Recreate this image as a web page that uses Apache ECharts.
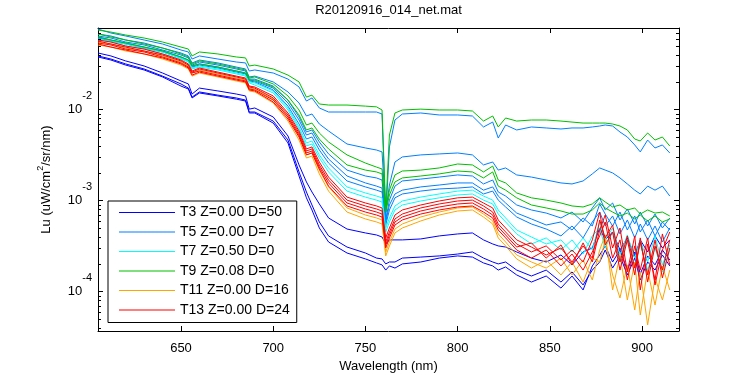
<!DOCTYPE html>
<html>
<head>
<meta charset="utf-8">
<script src="https://cdn.jsdelivr.net/npm/echarts@6/dist/echarts.min.js"></script>
<style>
html, body { margin: 0; padding: 0; background: #fff; }
#main { width: 750px; height: 375px; }
</style>
</head>
<body>
<div id="main"></div>
<script>
'use strict';

// wavelength grid (nm) shared by every spectrum
var wavelength = [605, 612, 620, 630, 640, 650, 654, 656, 660, 670, 680, 685, 687, 690, 700, 708, 714, 718, 721, 725,
    730, 740, 750, 756, 759, 761, 763, 766, 770, 780, 790, 800, 808, 814, 819, 822, 826, 832, 840, 848,
    856, 862, 868, 873, 877, 880, 884, 888, 892, 896, 899, 903, 907, 911, 915];

// T3 Z=0.00 D=50
var t3a = [4.18e-2, 3.88e-2, 3.42e-2, 3.01e-2, 2.52e-2, 2.06e-2, 1.91e-2, 1.48e-2, 1.72e-2, 1.60e-2, 1.48e-2, 1.41e-2, 1.01e-2, 1.04e-2, 8.28e-3, 5.12e-3, 2.46e-3, 1.60e-3, 1.24e-3, 9.16e-4, 6.43e-4, 4.86e-4, 4.40e-4, 4.18e-4, 3.97e-4, 3.33e-4, 3.69e-4, 3.69e-4, 3.69e-4, 3.78e-4, 4.08e-4, 4.29e-4, 4.40e-4, 3.69e-4, 3.33e-4, 3.17e-4, 3.08e-4, 2.72e-4, 2.33e-4, 2.11e-4, 2.52e-4, 1.96e-4, 2.72e-4, 3.01e-4, 4.99e-4, 3.69e-4, 4.51e-4, 2.86e-4, 3.88e-4, 2.46e-4, 3.69e-4, 2.72e-4, 4.08e-4, 3.01e-4, 3.69e-4];
var t3b = [3.88e-2, 3.59e-2, 3.17e-2, 2.79e-2, 2.33e-2, 1.91e-2, 1.72e-2, 1.37e-2, 1.56e-2, 1.44e-2, 1.34e-2, 1.27e-2, 9.39e-3, 9.39e-3, 7.47e-3, 4.62e-3, 2.06e-3, 1.24e-3, 8.93e-4, 5.81e-4, 4.08e-4, 3.08e-4, 2.65e-4, 2.33e-4, 2.28e-4, 2.01e-4, 2.11e-4, 2.11e-4, 2.33e-4, 2.39e-4, 2.46e-4, 2.58e-4, 2.72e-4, 2.33e-4, 2.11e-4, 2.01e-4, 2.11e-4, 1.72e-4, 1.48e-4, 1.72e-4, 1.27e-4, 1.64e-4, 1.18e-4, 1.72e-4, 2.11e-4, 2.86e-4, 1.81e-4, 2.46e-4, 1.52e-4, 2.33e-4, 1.34e-4, 2.11e-4, 1.72e-4, 2.52e-4, 1.91e-4];
var t3c = [3.78e-2, 3.50e-2, 3.08e-2, 2.72e-2, 2.28e-2, 1.81e-2, 1.68e-2, 1.34e-2, 1.52e-2, 1.41e-2, 1.30e-2, 1.24e-2, 9.16e-3, 9.16e-3, 7.10e-3, 4.29e-3, 1.86e-3, 1.07e-3, 7.87e-4, 4.99e-4, 3.50e-4, 2.65e-4, 2.28e-4, 2.06e-4, 1.96e-4, 1.72e-4, 1.91e-4, 1.81e-4, 2.01e-4, 2.11e-4, 2.33e-4, 2.46e-4, 2.39e-4, 2.06e-4, 1.91e-4, 1.72e-4, 1.86e-4, 1.52e-4, 1.27e-4, 1.48e-4, 1.09e-4, 1.48e-4, 1.04e-4, 1.91e-4, 2.52e-4, 3.17e-4, 2.11e-4, 2.86e-4, 1.72e-4, 2.72e-4, 1.56e-4, 2.46e-4, 1.96e-4, 2.86e-4, 2.22e-4];

// T5 Z=0.00 D=7
var t5a = [7.67e-2, 6.93e-2, 6.43e-2, 5.81e-2, 5.25e-2, 4.51e-2, 4.29e-2, 3.59e-2, 3.88e-2, 3.59e-2, 3.33e-2, 3.25e-2, 2.65e-2, 2.72e-2, 2.52e-2, 2.16e-2, 1.77e-2, 1.24e-2, 1.34e-2, 1.04e-2, 9.39e-3, 9.39e-3, 9.39e-3, 9.39e-3, 8.93e-3, 6.43e-4, 3.88e-3, 7.67e-3, 8.93e-3, 9.16e-3, 8.71e-3, 8.71e-3, 8.49e-3, 6.43e-3, 7.28e-3, 4.86e-3, 6.76e-3, 5.96e-3, 6.43e-3, 6.27e-3, 6.11e-3, 6.27e-3, 6.27e-3, 6.43e-3, 6.59e-3, 6.76e-3, 6.59e-3, 5.66e-3, 4.99e-3, 4.08e-3, 3.42e-3, 4.62e-3, 3.78e-3, 4.08e-3, 3.33e-3];
var t5b = [6.76e-2, 6.43e-2, 5.81e-2, 5.38e-2, 4.74e-2, 4.18e-2, 3.88e-2, 3.25e-2, 3.50e-2, 3.25e-2, 2.93e-2, 2.79e-2, 2.28e-2, 2.33e-2, 2.01e-2, 1.56e-2, 1.18e-2, 8.49e-3, 8.93e-3, 6.93e-3, 5.81e-3, 4.18e-3, 3.78e-3, 3.59e-3, 3.42e-3, 7.47e-4, 1.48e-3, 2.65e-3, 3.01e-3, 3.17e-3, 3.25e-3, 3.33e-3, 3.17e-3, 2.46e-3, 2.65e-3, 2.16e-3, 2.28e-3, 1.91e-3, 1.81e-3, 1.68e-3, 1.56e-3, 1.52e-3, 1.64e-3, 1.96e-3, 2.28e-3, 2.16e-3, 2.01e-3, 1.77e-3, 1.52e-3, 1.30e-3, 1.18e-3, 1.44e-3, 1.30e-3, 1.44e-3, 1.12e-3];
var t5c = [6.43e-2, 6.11e-2, 5.52e-2, 5.12e-2, 4.51e-2, 3.97e-2, 3.69e-2, 3.08e-2, 3.33e-2, 3.08e-2, 2.79e-2, 2.65e-2, 2.16e-2, 2.16e-2, 1.81e-2, 1.27e-2, 8.28e-3, 5.66e-3, 5.96e-3, 4.40e-3, 3.25e-3, 2.16e-3, 1.86e-3, 1.77e-3, 1.68e-3, 6.11e-4, 1.01e-3, 1.44e-3, 1.64e-3, 1.72e-3, 1.81e-3, 1.91e-3, 1.86e-3, 1.52e-3, 1.68e-3, 1.24e-3, 1.12e-3, 8.93e-4, 7.87e-4, 7.28e-4, 6.43e-4, 7.47e-4, 5.81e-4, 8.28e-4, 1.07e-3, 7.87e-4, 9.39e-4, 6.11e-4, 8.07e-4, 5.52e-4, 7.47e-4, 5.25e-4, 7.10e-4, 4.99e-4, 6.43e-4];
var t5d = [6.27e-2, 5.81e-2, 5.38e-2, 4.86e-2, 4.40e-2, 3.78e-2, 3.50e-2, 3.01e-2, 3.17e-2, 2.93e-2, 2.65e-2, 2.52e-2, 2.11e-2, 2.06e-2, 1.72e-2, 1.18e-2, 7.67e-3, 5.25e-3, 5.52e-3, 3.97e-3, 2.86e-3, 1.86e-3, 1.56e-3, 1.44e-3, 1.37e-3, 5.81e-4, 8.93e-4, 1.18e-3, 1.30e-3, 1.41e-3, 1.48e-3, 1.56e-3, 1.56e-3, 1.30e-3, 1.41e-3, 1.12e-3, 9.39e-4, 7.28e-4, 6.27e-4, 5.38e-4, 5.81e-4, 4.74e-4, 6.43e-4, 5.25e-4, 9.16e-4, 7.10e-4, 5.25e-4, 7.47e-4, 4.74e-4, 6.76e-4, 4.51e-4, 6.11e-4, 4.08e-4, 5.81e-4, 4.74e-4];
var t5e = [6.11e-2, 5.66e-2, 5.25e-2, 4.74e-2, 4.29e-2, 3.69e-2, 3.42e-2, 2.93e-2, 3.08e-2, 2.86e-2, 2.58e-2, 2.46e-2, 2.06e-2, 2.01e-2, 1.64e-2, 1.09e-2, 6.93e-3, 4.74e-3, 4.99e-3, 3.59e-3, 2.58e-3, 1.64e-3, 1.41e-3, 1.30e-3, 1.24e-3, 5.38e-4, 7.87e-4, 1.07e-3, 1.18e-3, 1.27e-3, 1.34e-3, 1.37e-3, 1.41e-3, 1.18e-3, 1.27e-3, 1.01e-3, 8.49e-4, 6.59e-4, 5.52e-4, 4.86e-4, 4.08e-4, 5.25e-4, 3.88e-4, 5.81e-4, 7.47e-4, 5.25e-4, 6.76e-4, 4.29e-4, 6.11e-4, 3.88e-4, 5.52e-4, 3.69e-4, 5.25e-4, 3.50e-4, 4.99e-4];

// T7 Z=0.50 D=0
var t7a = [5.96e-2, 5.66e-2, 5.25e-2, 4.74e-2, 4.29e-2, 3.69e-2, 3.42e-2, 2.86e-2, 3.01e-2, 2.79e-2, 2.52e-2, 2.39e-2, 2.01e-2, 1.96e-2, 1.60e-2, 1.04e-2, 6.43e-3, 4.29e-3, 4.51e-3, 3.17e-3, 2.28e-3, 1.41e-3, 1.21e-3, 1.12e-3, 1.07e-3, 4.99e-4, 6.43e-4, 8.71e-4, 9.88e-4, 1.09e-3, 1.18e-3, 1.27e-3, 1.30e-3, 1.12e-3, 1.01e-3, 7.87e-4, 6.43e-4, 4.74e-4, 3.97e-4, 3.33e-4, 3.69e-4, 2.72e-4, 3.88e-4, 2.86e-4, 5.81e-4, 3.69e-4, 4.99e-4, 2.52e-4, 4.18e-4, 2.33e-4, 3.69e-4, 2.11e-4, 4.08e-4, 1.96e-4, 3.25e-4];
var t7b = [5.81e-2, 5.52e-2, 4.99e-2, 4.62e-2, 4.08e-2, 3.59e-2, 3.33e-2, 2.79e-2, 2.93e-2, 2.72e-2, 2.46e-2, 2.33e-2, 1.96e-2, 1.86e-2, 1.52e-2, 9.88e-3, 6.11e-3, 3.97e-3, 4.18e-3, 2.93e-3, 2.06e-3, 1.27e-3, 1.09e-3, 1.01e-3, 9.63e-4, 4.51e-4, 5.81e-4, 7.87e-4, 8.93e-4, 9.88e-4, 1.07e-3, 1.15e-3, 1.18e-3, 1.01e-3, 9.16e-4, 7.10e-4, 5.81e-4, 4.29e-4, 3.33e-4, 3.88e-4, 2.86e-4, 3.69e-4, 2.58e-4, 4.08e-4, 4.99e-4, 3.01e-4, 4.51e-4, 2.11e-4, 3.69e-4, 1.91e-4, 3.33e-4, 1.72e-4, 3.01e-4, 1.64e-4, 2.86e-4];

// T9 Z=0.08 D=0
var t9a = [7.47e-2, 7.10e-2, 6.59e-2, 6.11e-2, 5.52e-2, 4.86e-2, 4.62e-2, 3.88e-2, 4.29e-2, 4.08e-2, 3.78e-2, 3.69e-2, 3.01e-2, 3.08e-2, 2.79e-2, 2.39e-2, 2.01e-2, 1.37e-2, 1.44e-2, 1.15e-2, 1.12e-2, 1.12e-2, 1.09e-2, 1.07e-2, 9.88e-3, 7.87e-4, 5.25e-3, 9.16e-3, 9.88e-3, 1.01e-2, 9.88e-3, 9.88e-3, 9.63e-3, 7.47e-3, 8.49e-3, 6.43e-3, 8.07e-3, 7.47e-3, 7.67e-3, 7.67e-3, 7.47e-3, 7.28e-3, 7.10e-3, 7.10e-3, 7.10e-3, 7.10e-3, 6.93e-3, 6.59e-3, 5.96e-3, 4.74e-3, 4.51e-3, 5.52e-3, 4.62e-3, 4.99e-3, 3.97e-3];
var t9b = [6.76e-2, 6.27e-2, 5.81e-2, 5.25e-2, 4.74e-2, 4.08e-2, 3.78e-2, 3.17e-2, 3.42e-2, 3.17e-2, 2.86e-2, 2.72e-2, 2.22e-2, 2.28e-2, 1.91e-2, 1.41e-2, 9.88e-3, 6.76e-3, 7.10e-3, 5.52e-3, 4.40e-3, 3.17e-3, 2.58e-3, 2.33e-3, 2.22e-3, 7.87e-4, 1.30e-3, 1.91e-3, 2.11e-3, 2.16e-3, 2.28e-3, 2.52e-3, 2.46e-3, 2.06e-3, 2.39e-3, 1.68e-3, 1.56e-3, 1.21e-3, 1.07e-3, 1.01e-3, 9.39e-4, 8.71e-4, 8.49e-4, 9.16e-4, 1.07e-3, 9.63e-4, 8.49e-4, 8.93e-4, 7.87e-4, 8.28e-4, 7.10e-4, 7.87e-4, 7.28e-4, 7.47e-4, 6.76e-4];
var t9c = [6.27e-2, 5.81e-2, 5.38e-2, 4.86e-2, 4.40e-2, 3.78e-2, 3.50e-2, 3.01e-2, 3.17e-2, 2.93e-2, 2.65e-2, 2.52e-2, 2.11e-2, 2.11e-2, 1.77e-2, 1.27e-2, 8.71e-3, 5.96e-3, 6.27e-3, 4.74e-3, 3.69e-3, 2.46e-3, 2.16e-3, 2.06e-3, 1.96e-3, 7.47e-4, 1.15e-3, 1.60e-3, 1.77e-3, 1.86e-3, 1.96e-3, 2.11e-3, 2.06e-3, 1.77e-3, 2.06e-3, 1.44e-3, 1.30e-3, 1.07e-3, 8.93e-4, 8.28e-4, 7.67e-4, 7.10e-4, 7.10e-4, 7.87e-4, 9.39e-4, 8.28e-4, 7.47e-4, 6.76e-4, 7.28e-4, 6.27e-4, 6.93e-4, 5.96e-4, 6.76e-4, 5.81e-4, 6.27e-4];

// T11 Z=0.00 D=16
var t11a = [5.52e-2, 5.25e-2, 4.74e-2, 4.40e-2, 3.88e-2, 3.33e-2, 3.01e-2, 2.52e-2, 2.72e-2, 2.46e-2, 2.22e-2, 2.11e-2, 1.72e-2, 1.68e-2, 1.30e-2, 8.28e-3, 5.12e-3, 3.17e-3, 3.33e-3, 2.16e-3, 1.41e-3, 8.28e-4, 6.93e-4, 6.43e-4, 6.11e-4, 2.72e-4, 3.50e-4, 4.86e-4, 5.52e-4, 6.59e-4, 7.47e-4, 8.28e-4, 8.49e-4, 7.10e-4, 5.96e-4, 4.29e-4, 3.50e-4, 2.52e-4, 2.11e-4, 1.81e-4, 2.33e-4, 1.52e-4, 2.22e-4, 1.34e-4, 2.86e-4, 4.18e-4, 1.04e-4, 2.52e-4, 8.07e-5, 2.11e-4, 5.52e-5, 1.72e-4, 7.10e-5, 1.91e-4, 1.04e-4];
var t11b = [5.12e-2, 4.86e-2, 4.40e-2, 4.08e-2, 3.59e-2, 3.08e-2, 2.79e-2, 2.33e-2, 2.52e-2, 2.28e-2, 2.06e-2, 1.96e-2, 1.60e-2, 1.56e-2, 1.18e-2, 7.47e-3, 4.62e-3, 2.93e-3, 3.08e-3, 1.96e-3, 1.27e-3, 7.47e-4, 6.27e-4, 5.81e-4, 5.52e-4, 2.46e-4, 3.17e-4, 4.40e-4, 4.99e-4, 5.96e-4, 6.93e-4, 7.67e-4, 7.87e-4, 6.59e-4, 5.52e-4, 3.88e-4, 3.17e-4, 2.28e-4, 1.81e-4, 2.22e-4, 1.52e-4, 2.11e-4, 1.27e-4, 2.33e-4, 2.11e-4, 3.69e-4, 1.52e-4, 8.49e-5, 1.96e-4, 6.27e-5, 1.64e-4, 4.29e-5, 1.41e-4, 8.07e-5, 1.72e-4];

// T13 Z=0.00 D=24
var t13a = [5.81e-2, 5.52e-2, 4.99e-2, 4.62e-2, 4.08e-2, 3.50e-2, 3.17e-2, 2.65e-2, 2.86e-2, 2.58e-2, 2.33e-2, 2.22e-2, 1.81e-2, 1.77e-2, 1.41e-2, 9.16e-3, 5.81e-3, 3.69e-3, 3.88e-3, 2.65e-3, 1.81e-3, 1.09e-3, 9.39e-4, 8.71e-4, 8.28e-4, 3.88e-4, 4.99e-4, 6.93e-4, 7.87e-4, 8.93e-4, 9.88e-4, 1.07e-3, 1.09e-3, 9.39e-4, 8.28e-4, 6.11e-4, 4.99e-4, 3.69e-4, 3.08e-4, 2.52e-4, 3.01e-4, 2.11e-4, 3.17e-4, 2.33e-4, 6.11e-4, 3.88e-4, 5.38e-4, 2.11e-4, 4.08e-4, 1.81e-4, 3.50e-4, 1.52e-4, 3.69e-4, 1.41e-4, 3.01e-4];
var t13b = [5.66e-2, 5.25e-2, 4.86e-2, 4.40e-2, 3.97e-2, 3.42e-2, 3.08e-2, 2.58e-2, 2.79e-2, 2.52e-2, 2.28e-2, 2.16e-2, 1.77e-2, 1.72e-2, 1.34e-2, 8.71e-3, 5.52e-3, 3.50e-3, 3.69e-3, 2.46e-3, 1.68e-3, 1.01e-3, 8.71e-4, 8.07e-4, 7.67e-4, 3.50e-4, 4.51e-4, 6.27e-4, 7.10e-4, 8.28e-4, 9.16e-4, 9.88e-4, 1.01e-3, 8.71e-4, 7.47e-4, 5.52e-4, 4.51e-4, 3.33e-4, 2.72e-4, 3.17e-4, 2.22e-4, 2.86e-4, 2.11e-4, 3.69e-4, 7.47e-4, 3.25e-4, 4.51e-4, 1.72e-4, 3.69e-4, 1.52e-4, 3.88e-4, 1.27e-4, 3.17e-4, 1.72e-4, 3.69e-4];
var t13c = [5.38e-2, 5.12e-2, 4.62e-2, 4.29e-2, 3.78e-2, 3.25e-2, 2.93e-2, 2.52e-2, 2.65e-2, 2.39e-2, 2.16e-2, 2.06e-2, 1.68e-2, 1.64e-2, 1.27e-2, 8.28e-3, 5.25e-3, 3.33e-3, 3.50e-3, 2.33e-3, 1.56e-3, 9.39e-4, 8.07e-4, 7.47e-4, 7.10e-4, 3.25e-4, 4.18e-4, 5.81e-4, 6.59e-4, 7.67e-4, 8.49e-4, 9.16e-4, 9.39e-4, 8.07e-4, 6.93e-4, 5.12e-4, 4.18e-4, 3.08e-4, 3.42e-4, 2.33e-4, 3.25e-4, 1.96e-4, 3.42e-4, 2.11e-4, 4.74e-4, 6.93e-4, 3.01e-4, 4.99e-4, 1.64e-4, 4.08e-4, 1.04e-4, 3.33e-4, 1.34e-4, 4.29e-4, 1.96e-4];
var t13d = [5.25e-2, 4.86e-2, 4.51e-2, 4.08e-2, 3.69e-2, 3.17e-2, 2.86e-2, 2.39e-2, 2.58e-2, 2.33e-2, 2.11e-2, 2.01e-2, 1.64e-2, 1.60e-2, 1.21e-2, 7.87e-3, 4.99e-3, 3.17e-3, 3.33e-3, 2.22e-3, 1.44e-3, 8.71e-4, 7.47e-4, 6.93e-4, 6.59e-4, 3.01e-4, 3.88e-4, 5.38e-4, 6.11e-4, 7.10e-4, 7.87e-4, 8.49e-4, 8.71e-4, 7.47e-4, 6.43e-4, 4.74e-4, 3.88e-4, 2.86e-4, 2.33e-4, 2.86e-4, 1.91e-4, 2.58e-4, 1.72e-4, 2.72e-4, 4.08e-4, 5.81e-4, 2.33e-4, 3.69e-4, 1.34e-4, 3.17e-4, 1.72e-4, 3.88e-4, 1.18e-4, 2.86e-4, 4.51e-4];

var lineNames = ['T3 Z=0.00 D=50', 'T5 Z=0.00 D=7', 'T7 Z=0.50 D=0', 'T9 Z=0.08 D=0', 'T11 Z=0.00 D=16', 'T13 Z=0.00 D=24'];
var lineColors = ['#0000ff', '#0080ff', '#00ffff', '#00c000', '#ffa500', '#ff0000'];
var groupSpectra = [[t3a, t3b, t3c], [t5a, t5b, t5c, t5d, t5e], [t7a, t7b], [t9a, t9b, t9c], [t11a, t11b], [t13a, t13b, t13c, t13d]];

// axis ranges and log minor tick positions
var xMin = 605, xMax = 920;
var yMin = 3.68e-5, yMax = 0.0787;
var yMinorTicks = [4e-5, 5e-5, 6e-5, 7e-5, 8e-5, 9e-5,
    2e-4, 3e-4, 4e-4, 5e-4, 6e-4, 7e-4, 8e-4, 9e-4,
    2e-3, 3e-3, 4e-3, 5e-3, 6e-3, 7e-3, 8e-3, 9e-3,
    2e-2, 3e-2, 4e-2, 5e-2, 6e-2, 7e-2];

var font = 'Liberation Sans, Arial, Helvetica, sans-serif';

var myChart = echarts.init(document.getElementById('main'));

var series = [];
groupSpectra.forEach(function (lines, g) {
    lines.forEach(function (vals) {
        series.push({
            name: lineNames[g],
            type: 'line',
            color: lineColors[g],
            data: wavelength.map(function (w, i) { return [w, vals[i]]; }),
            symbol: 'none',
            showSymbol: false,
            lineStyle: { width: 1, color: lineColors[g] },
            emphasis: { disabled: true },
            silent: true
        });
    });
});

// minor ticks of the log axis, drawn on both sides of the box
series.push({
    type: 'custom',
    silent: true,
    z: 10,
    clip: false,
    data: yMinorTicks.map(function (v) { return [xMin, v]; }),
    encode: { x: 0, y: 1 },
    renderItem: function (params, api) {
        var v = api.value(1);
        var l = api.coord([xMin, v]);
        var r = api.coord([xMax, v]);
        var y = Math.round(l[1]) + 0.5;
        return {
            type: 'group',
            children: [
                { type: 'line', shape: { x1: l[0], y1: y, x2: l[0] + 3, y2: y }, style: { stroke: '#000', lineWidth: 1 } },
                { type: 'line', shape: { x1: r[0] - 3, y1: y, x2: r[0], y2: y }, style: { stroke: '#000', lineWidth: 1 } }
            ]
        };
    }
});

function logLabel(value) {
    var e = Math.round(Math.log(value) / Math.LN10);
    if (Math.abs(Math.log(value) / Math.LN10 - e) > 1e-6) return '';
    return '10{sup|' + e + '}';
}

var option = {
    animation: false,
    backgroundColor: '#fff',
    textStyle: { fontFamily: font, color: '#000' },
    grid: { left: 98, top: 28, width: 581, height: 303, containLabel: false, outerBoundsMode: 'none' },
    legend: {
        orient: 'vertical',
        left: 108,
        top: 201,
        padding: [4.5, 7, 5.5, 11],
        itemGap: 5.5,
        itemWidth: 56,
        itemHeight: 1,
        icon: 'rect',
        itemStyle: { borderWidth: 0 },
        backgroundColor: '#fff',
        borderColor: '#000',
        borderWidth: 1,
        borderRadius: 0,
        selectedMode: false,
        textStyle: { fontFamily: font, fontSize: 14, color: '#000', lineHeight: 14 },
        data: lineNames
    },
    xAxis: [{
        type: 'value',
        min: xMin,
        max: xMax,
        splitNumber: 6,
        position: 'bottom',
        name: 'Wavelength (nm)',
        nameLocation: 'middle',
        nameGap: 27,
        nameTextStyle: { fontFamily: font, fontSize: 13, color: '#000' },
        axisLine: { onZero: false, lineStyle: { color: '#000', width: 1 } },
        axisTick: { inside: true, length: 5, lineStyle: { color: '#000' } },
        axisLabel: {
            fontFamily: font, fontSize: 13, color: '#000', margin: 11,
            formatter: function (v) { return v % 50 === 0 ? String(v) : ''; }
        },
        splitLine: { show: false }
    }, {
        type: 'value',
        min: xMin,
        max: xMax,
        splitNumber: 6,
        position: 'top',
        name: 'R20120916_014_net.mat',
        nameLocation: 'middle',
        nameGap: 11,
        nameTextStyle: { fontFamily: font, fontSize: 13, color: '#000' },
        axisLine: { onZero: false, lineStyle: { color: '#000', width: 1 } },
        axisTick: { inside: true, length: 5, lineStyle: { color: '#000' } },
        axisLabel: { show: false },
        splitLine: { show: false }
    }],
    yAxis: [{
        type: 'log',
        logBase: 10,
        min: yMin,
        max: yMax,
        position: 'left',
        name: 'Lu (uW/cm{sup|2}/sr/nm)',
        nameLocation: 'middle',
        nameGap: 25,
        nameTextStyle: {
            fontFamily: font, fontSize: 13, color: '#000', lineHeight: 21,
            rich: { sup: { fontFamily: font, fontSize: 9, lineHeight: 9, verticalAlign: 'top', color: '#000' } }
        },
        axisLine: { onZero: false, lineStyle: { color: '#000', width: 1 } },
        axisTick: { inside: true, length: 5, lineStyle: { color: '#000' } },
        axisLabel: {
            fontFamily: font, fontSize: 13, color: '#000', margin: 6, lineHeight: 38,
            formatter: logLabel,
            rich: { sup: { fontFamily: font, fontSize: 11, lineHeight: 11, verticalAlign: 'top', color: '#000' } }
        },
        splitLine: { show: false },
        minorTick: { show: false }
    }, {
        type: 'log',
        logBase: 10,
        min: yMin,
        max: yMax,
        position: 'right',
        axisLine: { onZero: false, lineStyle: { color: '#000', width: 1 } },
        axisTick: { inside: true, length: 5, lineStyle: { color: '#000' } },
        axisLabel: { show: false },
        splitLine: { show: false }
    }],
    series: series
};

myChart.setOption(option);
</script>
</body>
</html>
